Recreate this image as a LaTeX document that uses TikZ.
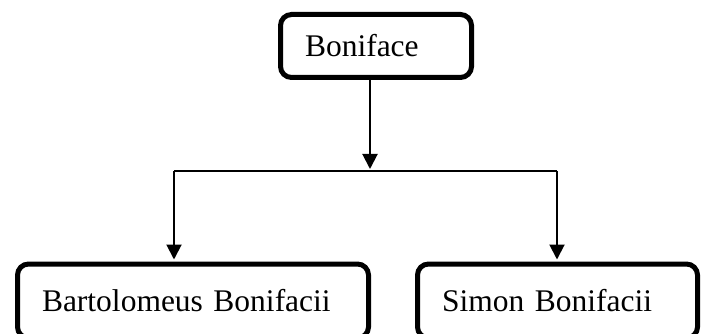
\documentclass[tikz,border=0pt]{standalone}
\usepackage{fontspec}
\setmainfont{Liberation Serif}
\usetikzlibrary{positioning,arrows.meta}

\begin{document}
\begin{tikzpicture}[
  x=1pt, y=-1pt,
  person/.style={draw, line width=5pt, rounded corners=11pt, align=left,
    inner xsep=24.5pt, inner ysep=0pt, font=\fontsize{31.5}{36}\selectfont},
  link/.style={line width=2pt},
  arr/.style={link, -{Triangle[length=15pt,width=15pt]}, shorten >=2pt}
]
  \useasboundingbox (0,0) rectangle (707,334);
  \clip (0,0) rectangle (707,334);

  % --- parent ---
  \node[person, text width=142pt, minimum height=63pt] (boniface) at (376,46) {Boniface};

  % --- children ---
  \node[person, text width=302pt, minimum height=74pt] (bartolomeus) at (193,301) {Bartolomeus Bonifacii};
  \node[person, text width=231pt, minimum height=74pt] (simon) at (557.5,301) {Simon Bonifacii};

  % --- connectors ---
  \coordinate (split) at (370,171);
  \coordinate (jl) at (174,171);
  \coordinate (jr) at (557,171);
  \draw[arr] (boniface.south -| split) -- (split);
  \draw[link] (jl) -- (jr);
  \draw[arr] (jl) -- (jl |- bartolomeus.north);
  \draw[arr] (jr) -- (jr |- simon.north);
\end{tikzpicture}
\end{document}
